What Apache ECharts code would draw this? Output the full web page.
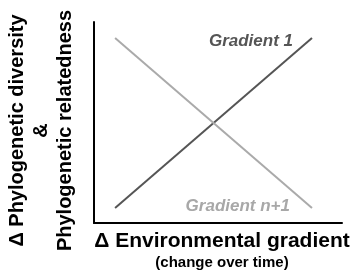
<!DOCTYPE html>
<html><head><meta charset="utf-8">
<script src="https://cdn.jsdelivr.net/npm/echarts@6/dist/echarts.min.js"></script>
<style>html,body{margin:0;padding:0;background:#fff}#c{width:354px;height:271px}</style>
</head><body><div id="c"></div>
<script>
const xTitle = 'Δ Environmental gradient';
const xSubtitle = '(change over time)';
const yTitleLines = ['Δ Phylogenetic diversity', '&', 'Phylogenetic relatedness'];
const seriesNames = ['Gradient 1', 'Gradient n+1'];
const gradient1 = [[0.85, 0.75], [8.79, 9.2]];
const gradientN1 = [[0.85, 9.2], [8.79, 0.75]];

const font = '"Liberation Sans", Arial, Helvetica, sans-serif';
const labelStyles = [
  {position: 'left', distance: 19, offset: [0, 3], fontSize: 17, color: '#555'},
  {position: 'left', distance: 22, offset: [0, -2], fontSize: 17, color: '#a8a8a8'}
];
function withEndLabel(data, idx) {
  return data.map((d, i) => {
    if (i !== data.length - 1) return {value: d};
    return {
      value: d,
      label: Object.assign({show: true, formatter: seriesNames[idx], fontFamily: font,
        fontStyle: 'italic', fontWeight: 'bold'}, labelStyles[idx])
    };
  });
}
const chart = echarts.init(document.getElementById('c'));
chart.setOption({
  animation: false,
  grid: {left: 94, right: 12, top: 22, bottom: 48, outerBoundsMode: 'none', containLabel: false},
  xAxis: {
    type: 'value', min: 0, max: 10,
    axisLine: {show: true, lineStyle: {color: '#000', width: 2}},
    axisTick: {show: false}, axisLabel: {show: false}, splitLine: {show: false},
    name: '{a|' + xTitle + '}\n{b|' + xSubtitle + '}',
    nameLocation: 'middle', nameGap: 6,
    nameTextStyle: {
      verticalAlign: 'top', padding: [0, 0, 0, 8],
      rich: {
        a: {fontFamily: font, fontWeight: 'bold', fontSize: 21, color: '#000', lineHeight: 25},
        b: {fontFamily: font, fontWeight: 'bold', fontSize: 15, color: '#000', lineHeight: 17}
      }
    }
  },
  yAxis: {
    type: 'value', min: 0, max: 10,
    axisLine: {show: true, lineStyle: {color: '#000', width: 2}},
    axisTick: {show: false}, axisLabel: {show: false}, splitLine: {show: false},
    name: yTitleLines.join('\n'),
    nameLocation: 'middle', nameRotate: 90, nameGap: 17,
    nameTextStyle: {
      fontFamily: font, fontWeight: 'bold', fontSize: 20, color: '#000',
      lineHeight: 24, align: 'center', padding: [0, 16, 0, 0]
    }
  },
  series: [
    {
      name: seriesNames[0], type: 'line', data: withEndLabel(gradient1, 0),
      symbol: 'circle', symbolSize: 0, showSymbol: true,
      lineStyle: {color: '#555', width: 2}, itemStyle: {color: '#555'}
    },
    {
      name: seriesNames[1], type: 'line', data: withEndLabel(gradientN1, 1),
      symbol: 'circle', symbolSize: 0, showSymbol: true,
      lineStyle: {color: '#aaa', width: 2}, itemStyle: {color: '#aaa'}
    }
  ]
});
</script></body></html>
